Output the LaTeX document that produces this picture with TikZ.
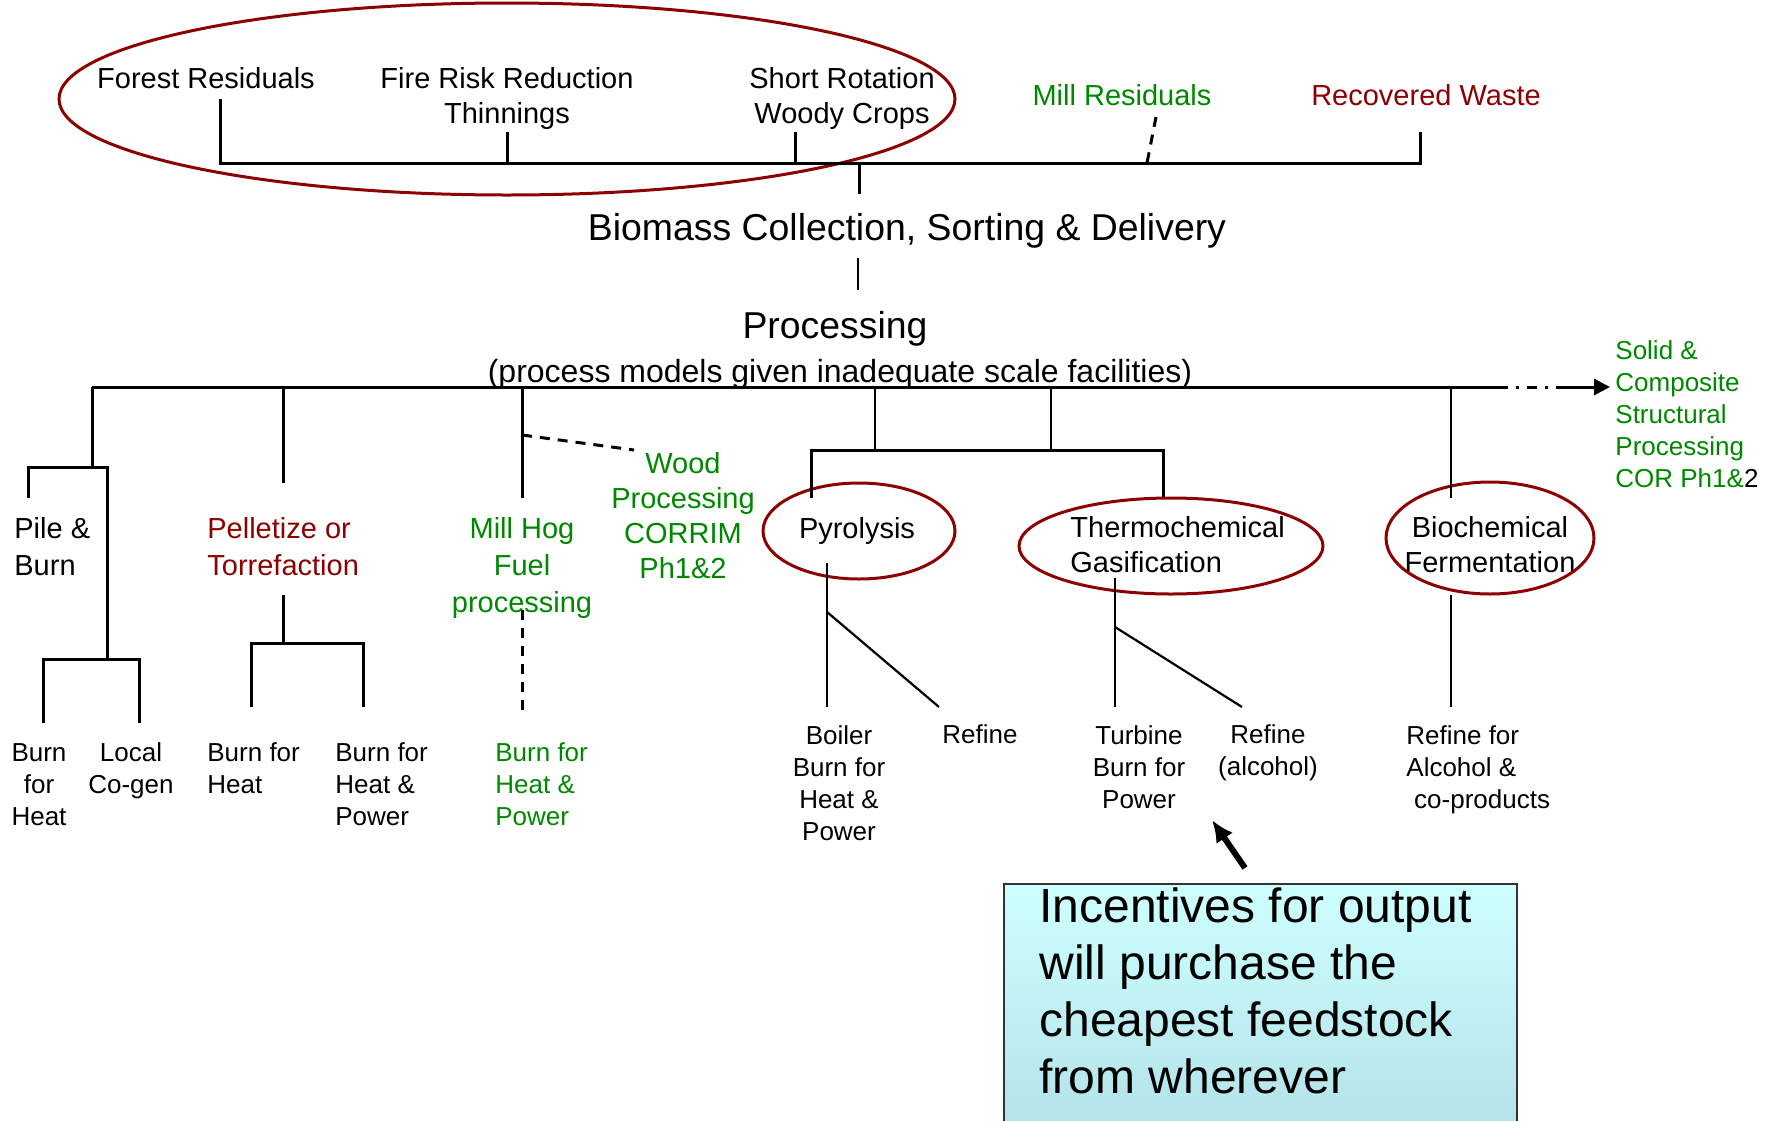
\documentclass[tikz,border=0pt]{standalone}
\usepackage{fontspec}
\setmainfont{Liberation Sans}
\usetikzlibrary{arrows.meta}
\definecolor{ringred}{RGB}{140,0,0}
\definecolor{woodgreen}{RGB}{0,135,0}
\definecolor{boxtop}{RGB}{206,255,255}
\definecolor{boxbot}{RGB}{178,226,232}

\begin{document}
\begin{tikzpicture}[x=0.5pt, y=-0.5pt,
        src/.style={inner sep=0, font=\fontsize{14.5}{17.5}\selectfont, align=center},
        mid/.style={inner sep=0, font=\fontsize{14.5}{18.5}\selectfont},
        leaf/.style={inner sep=0, font=\fontsize{13}{16}\selectfont},
        head/.style={inner sep=0, font=\fontsize{18.7}{22}\selectfont},
        bar/.style={line width=1.5pt},
        twig/.style={line width=1.1pt},
        ring/.style={draw=ringred, line width=1.5pt},
        notebox/.style={draw=black!80, line width=1.2pt, top color=boxtop, bottom color=boxbot,
          minimum width=256.5pt, minimum height=125pt, inner sep=0}]
        \useasboundingbox (0,0) rectangle (1779,1120);

        \node[src, anchor=base] (forest) at (206,88) {Forest Residuals};
        \node[src, anchor=base] (fire) at (507,123) {Fire Risk Reduction\\Thinnings};
        \node[src, anchor=base] (short) at (842,123) {Short Rotation\\Woody Crops};
        \node[src, text=woodgreen, anchor=base] (millres) at (1122,105) {Mill Residuals};
        \node[src, text=ringred, anchor=base] (waste) at (1426,105) {Recovered Waste};
        \draw[ring] (507,99) ellipse [x radius=448, y radius=96];

        \coordinate (forest-s) at (220,99);
        \coordinate (fire-s) at (507,132);
        \coordinate (short-s) at (795,132);
        \coordinate (millres-s) at (1156,117);
        \coordinate (millres-j) at (1147,163);
        \coordinate (waste-s) at (1420,132);
        \coordinate (feed-w) at (220,163);
        \coordinate (feed-e) at (1420,163);
        \coordinate (feed-m) at (859,163);
        \coordinate (feed-d) at (859,194);
        \draw[bar] (forest-s) -- (feed-w) -- (feed-e) -- (waste-s);
        \draw[bar] (fire-s) -- (fire-s |- feed-w);
        \draw[bar] (short-s) -- (short-s |- feed-w);
        \draw[bar, dash pattern=on 5pt off 4pt] (millres-s) -- (millres-j);
        \draw[bar] (feed-m) -- (feed-d);

        \node[head, anchor=base] (collect) at (907,240) {Biomass Collection, Sorting \& Delivery};
        \coordinate (collect-s) at (858,258);
        \coordinate (proc-n) at (858,290);
        \draw[twig] (collect-s) -- (proc-n);
        \node[head, anchor=base] (proc) at (835,338) {Processing};
        \node[inner sep=0, font=\fontsize{16}{19}\selectfont, anchor=base] (procnote) at (840,382)
        {(process models given inadequate scale facilities)};

        \coordinate (pb-w) at (92,387);
        \coordinate (pb-e) at (1498,387);
        \coordinate (pb-dd) at (1558,387);
        \coordinate (pb-tip) at (1610,387);
        \draw[bar] (pb-w) -- (pb-e);
        \draw[bar, dash pattern=on 5pt off 4pt on 1.5pt off 4pt] (pb-e) -- (pb-dd);
        \draw[bar, -{Triangle[length=8pt, width=8pt]}] (pb-dd) -- (pb-tip);
        \node[leaf, text=woodgreen, align=left, anchor=base west] (solid) at (1615,487)
        {Solid \&\\Composite\\Structural\\Processing\\COR Ph1\&{\color{black}2}};

        \node[mid, align=left, anchor=base west] (pile) at (14,575) {Pile \&\\Burn};
        \coordinate (pile-j) at (92,467);
        \coordinate (pile-s) at (28,498);
        \coordinate (pile-d) at (107,659);
        \coordinate (heat-n) at (43,723);
        \coordinate (cogen-n) at (139,723);
        \draw[bar] (pb-w) -- (pile-j);
        \draw[bar] (pile-s) |- (pile-j) -| (pile-d);
        \draw[bar] (heat-n) |- (pile-d) -| (cogen-n);
        \node[leaf, align=center, anchor=base] (heat) at (39,825) {Burn\\for\\Heat};
        \node[leaf, align=center, anchor=base] (cogen) at (131,793) {Local\\Co-gen};

        \node[mid, text=ringred, align=left, anchor=base west] (pellet) at (207,575) {Pelletize or\\Torrefaction};
        \coordinate (pellet-j) at (283,483);
        \coordinate (pellet-s) at (283,595);
        \coordinate (pellet-d) at (283,643);
        \coordinate (bfh-n) at (251,707);
        \coordinate (bfhp-n) at (363,707);
        \draw[bar] (pellet-j |- pb-w) -- (pellet-j);
        \draw[bar] (pellet-s) -- (pellet-d);
        \draw[bar] (bfh-n) |- (pellet-d) -| (bfhp-n);
        \node[leaf, align=left, anchor=base west] (bfh) at (207,793) {Burn for\\Heat};
        \node[leaf, align=left, anchor=base west] (bfhp) at (335,825) {Burn for\\Heat \&\\Power};

        \node[mid, text=woodgreen, align=center, anchor=base] (hog) at (522,612) {Mill Hog\\Fuel\\processing};
        \node[mid, text=woodgreen, align=center, anchor=base, font=\fontsize{14.5}{17.5}\selectfont] (wood) at (683,578)
        {Wood\\Processing\\CORRIM\\Ph1\&2};
        \coordinate (hog-j) at (522,498);
        \coordinate (hog-k) at (522,435);
        \coordinate (wood-w) at (634,450);
        \coordinate (hog-s) at (522,610);
        \coordinate (hog-n) at (522,717);
        \draw[bar] (hog-j |- pb-w) -- (hog-j);
        \draw[bar, dash pattern=on 5pt off 4pt] (hog-k) -- (wood-w);
        \draw[bar, dash pattern=on 5pt off 4pt] (hog-s) -- (hog-n);
        \node[leaf, text=woodgreen, align=left, anchor=base west] (hogburn) at (495,825) {Burn for\\Heat \&\\Power};

        \node[mid, anchor=base] (pyro) at (857,538) {Pyrolysis};
        \node[mid, align=left, anchor=base west, font=\fontsize{14.5}{17.5}\selectfont] (thermo) at (1070,572)
        {Thermochemical\\Gasification};
        \node[mid, align=center, anchor=base, font=\fontsize{14.5}{17.5}\selectfont] (bio) at (1490,572)
        {Biochemical\\Fermentation};
        \draw[ring] (859,531) ellipse [x radius=96, y radius=48];
        \draw[ring] (1171,546) ellipse [x radius=152, y radius=48];
        \draw[ring] (1490,538) ellipse [x radius=104, y radius=56];

        \coordinate (thm-a) at (875,450);
        \coordinate (thm-b) at (1051,450);
        \coordinate (pyro-n) at (811,498);
        \coordinate (thermo-n) at (1163,497);
        \draw[twig] (thm-a |- pb-w) -- (thm-a);
        \draw[twig] (thm-b |- pb-w) -- (thm-b);
        \draw[bar] (pyro-n) |- (thm-a) -| (thermo-n);
        \coordinate (bio-j) at (1451,498);
        \draw[twig] (bio-j |- pb-w) -- (bio-j);

        \coordinate (pyro-s) at (827,563);
        \coordinate (pyro-k) at (827,612);
        \coordinate (boiler-n) at (827,707);
        \coordinate (refine-n) at (939,707);
        \draw[twig] (pyro-s) -- (boiler-n);
        \draw[twig] (pyro-k) -- (refine-n);
        \coordinate (thermo-s) at (1115,578);
        \coordinate (thermo-k) at (1115,627);
        \coordinate (turbine-n) at (1115,707);
        \coordinate (alcohol-n) at (1242,707);
        \draw[twig] (thermo-s) -- (turbine-n);
        \draw[twig] (thermo-k) -- (alcohol-n);
        \coordinate (bio-s) at (1451,595);
        \coordinate (coprod-n) at (1451,707);
        \draw[twig] (bio-s) -- (coprod-n);

        \node[leaf, align=center, anchor=base] (boiler) at (839,840) {Boiler\\Burn for\\Heat \&\\Power};
        \node[leaf, anchor=base] (refine) at (980,743) {Refine};
        \node[leaf, align=center, anchor=base] (turbine) at (1139,808) {Turbine\\Burn for\\Power};
        \node[leaf, align=center, anchor=base] (alcohol) at (1268,775) {Refine\\(alcohol)};
        \node[leaf, align=left, anchor=base west] (coprod) at (1406,808) {Refine for\\Alcohol \&\\\hspace{0.3em}co-products};

        \node[notebox, anchor=north west] (note) at (1003,883) {};
        \node[inner sep=0, align=left, anchor=north west, font=\fontsize{24}{28.5}\selectfont] (notetext) at (1039,887)
        {Incentives for output\\will purchase the\\cheapest feedstock\\from wherever};
        \coordinate (note-s) at (1245,868);
        \coordinate (turbine-e) at (1212,820);
        \draw[line width=3pt, -{Latex[length=11pt, width=10pt]}] (note-s) -- (turbine-e);
\end{tikzpicture}
\end{document}
